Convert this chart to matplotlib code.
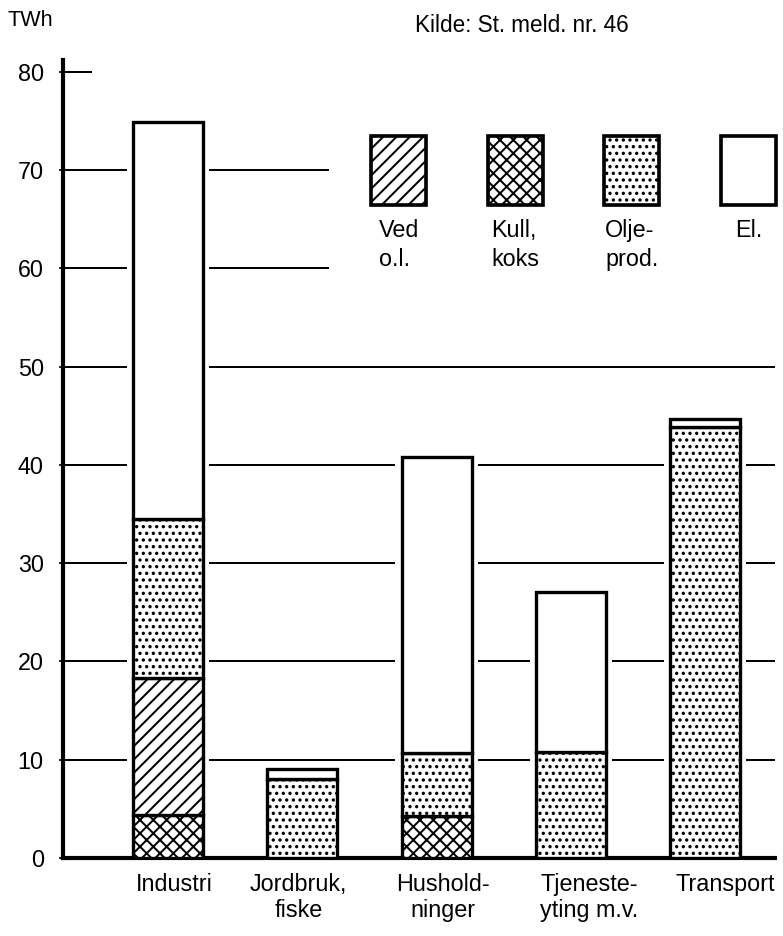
# coding: utf-8
import numpy as np
import matplotlib
matplotlib.use('Agg')
import matplotlib.pyplot as plt
import matplotlib.transforms as mtransforms
from matplotlib.patches import Rectangle

# Energibruk etter sektor og energibærer (TWh)
categories = ['Industri', 'Jordbruk,\nfiske', 'Hushold-\nninger', 'Tjeneste-\nyting m.v.', 'Transport']
kull = [4.4, 0.0, 4.3, 0.0, 0.0]
ved = [13.9, 0.0, 0.0, 0.0, 0.0]
olje = [16.2, 8.0, 6.4, 10.8, 43.9]
el = [40.4, 1.1, 30.1, 16.3, 0.8]
yticks = [0, 10, 20, 30, 40, 50, 60, 70, 80]

legend_labels = ['Ved\no.l.', 'Kull,\nkoks', 'Olje-\nprod.', 'El.']
legend_hatches = ['///', 'xxx', '...', '']

plt.rcParams['font.family'] = ['Liberation Sans', 'DejaVu Sans']
plt.rcParams['hatch.linewidth'] = 1.2

W, H, DPI = 783, 936, 120
fig = plt.figure(figsize=(W / DPI, H / DPI), dpi=DPI)
ax = fig.add_axes([63 / W, 1 - 858 / H, (775 - 63) / W, (858 - 60) / H])

x = np.arange(len(categories))
bar_w = 0.52
xlim = (-0.782, 4.52)
ax.set_xlim(xlim)
ax.set_ylim(0, 81.2)

# stablede søyler: kull, ved, oljeprodukter, el
bottom = np.zeros(len(categories))
for vals, hatch in [(kull, 'xxx'), (ved, '///'), (olje, '...'), (el, '')]:
    vals = np.array(vals)
    idx = vals > 0
    ax.bar(x[idx], vals[idx], bar_w, bottom=bottom[idx], color='white',
           edgecolor='black', linewidth=2.0, hatch=hatch, zorder=3)
    bottom += vals
totals = bottom

# hjelpelinjer, brutt rundt søylene
gap = 0.055
for level in yticks[1:]:
    if level >= 80:
        right = -0.57
    elif level >= 60:
        right = 1.19
    else:
        right = xlim[1]
    start = xlim[0]
    for i in range(len(categories)):
        left_edge = x[i] - bar_w / 2 - gap
        if totals[i] >= level and left_edge < right:
            ax.plot([start, left_edge], [level, level], color='black', lw=1.2, zorder=2)
            start = x[i] + bar_w / 2 + gap
    if start < right:
        ax.plot([start, right], [level, level], color='black', lw=1.2, zorder=2)

for s in ['top', 'right']:
    ax.spines[s].set_visible(False)
ax.spines['left'].set_linewidth(2.5)
ax.spines['bottom'].set_linewidth(2.5)

ax.set_yticks(yticks)
ax.tick_params(axis='y', direction='out', length=2.5, width=1.0, pad=9, labelsize=14)
ax.set_xticks(x)
ax.set_xticklabels(categories, fontsize=14, linespacing=1.15)
ax.tick_params(axis='x', length=0, pad=9)

# kategoritekstene er satt litt skjevt i forhold til søylene
label_shift = [6, -4, 6, 18, 20]
for lab, dx in zip(ax.get_xticklabels(), label_shift):
    lab.set_transform(lab.get_transform() + mtransforms.ScaledTranslation(dx / DPI, 0, fig.dpi_scale_trans))

fig.text(8 / W, 1 - 20 / H, 'TWh', fontsize=13, ha='left', va='center')
fig.text(415 / W, 1 - 26 / H, 'Kilde: St. meld. nr. 46', fontsize=13.5, ha='left', va='center')

# tegnforklaring
for i, (lab, hatch) in enumerate(zip(legend_labels, legend_hatches)):
    px = 371 + i * 116.5
    fig.add_artist(Rectangle((px / W, 1 - 205 / H), 55 / W, 69 / H, transform=fig.transFigure,
                             facecolor='white', edgecolor='black', linewidth=2.2, hatch=hatch))
    fig.text((px + 28) / W, 1 - 219 / H, lab, fontsize=14, ha='center', va='top',
             multialignment='left', linespacing=1.35)

fig.savefig('out.png', dpi=DPI)
